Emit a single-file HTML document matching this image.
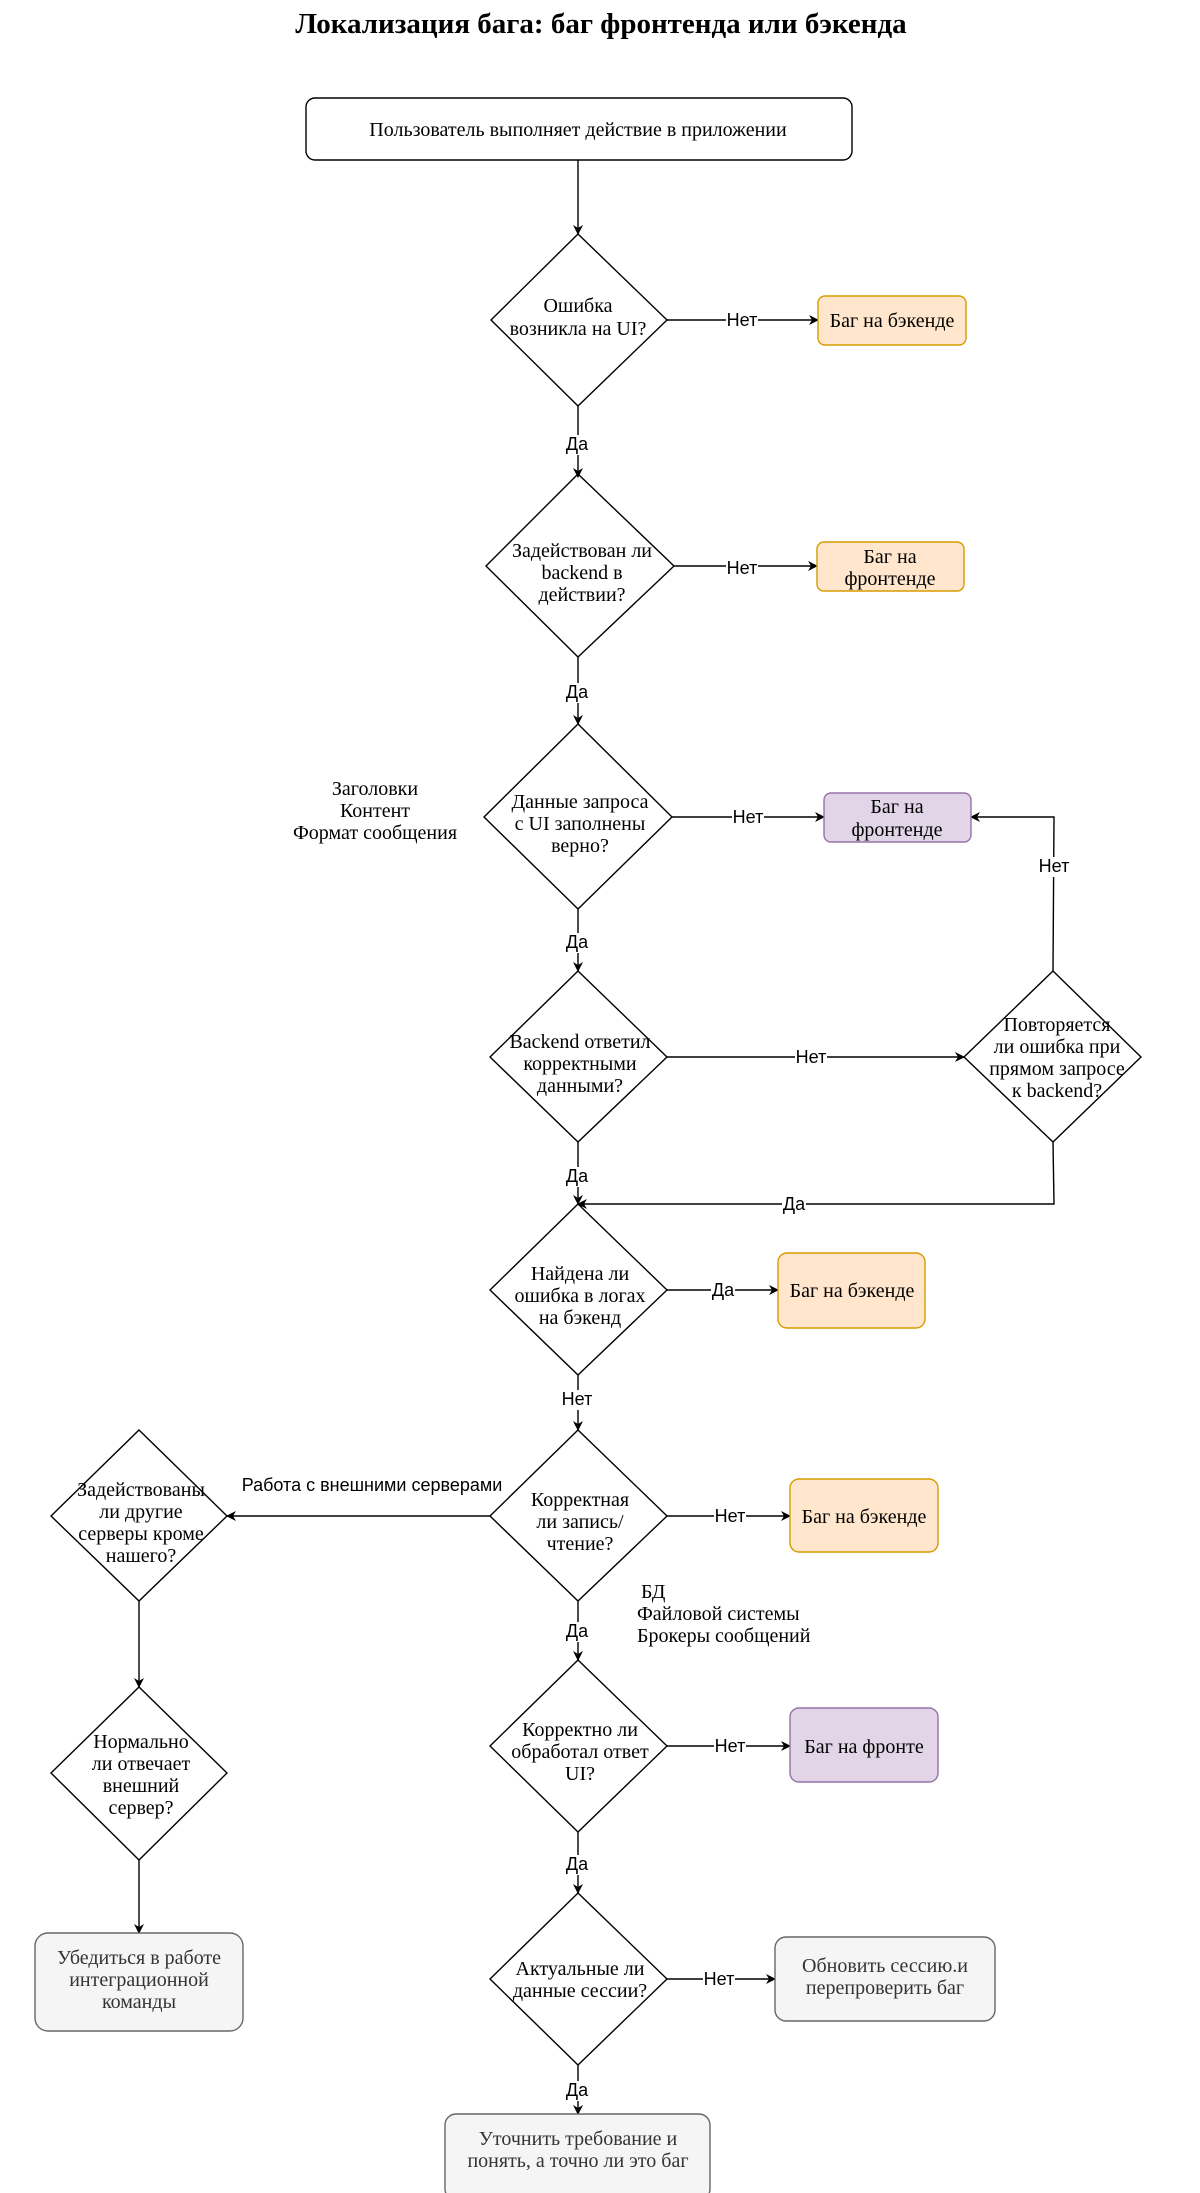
<!DOCTYPE html>
<html><head><meta charset="utf-8"><style>
html,body{margin:0;padding:0;background:#fff}
svg{display:block}
.s{font-family:"Liberation Serif","Noto Serif CJK SC",serif;font-size:20px;fill:#000;text-anchor:middle}
.l{font-family:"Liberation Sans","Noto Sans CJK SC",sans-serif;font-size:18px;fill:#000;text-anchor:middle}
.g{fill:#333}
</style></head><body>
<svg width="1200" height="2193" viewBox="0 0 1200 2193" xmlns="http://www.w3.org/2000/svg">
<defs><marker id="a" markerWidth="10" markerHeight="10" refX="9" refY="5" orient="auto" markerUnits="userSpaceOnUse"><path d="M0,0 L10,5 L0,10 L3,5 z" fill="#000"/></marker></defs>
<text x="601" y="33" class="s" style="font-size:29px;font-weight:bold">Локализация бага: баг фронтенда или бэкенда</text>
<g fill="none" stroke="#000" stroke-width="1.4">
<rect x="306" y="98" width="546" height="62" rx="9" fill="#fff"/>
<polygon points="578,234 667,320 578,406 491,320" fill="#fff"/>
<polygon points="578,474 674,566 578,657 486,566" fill="#fff"/>
<polygon points="578,724 672,817 578,909 484,817" fill="#fff"/>
<polygon points="578,971 667,1057 578,1142 490,1057" fill="#fff"/>
<polygon points="1053,971 1141,1057 1053,1142 964,1057" fill="#fff"/>
<polygon points="578,1204 667,1290 578,1375 490,1290" fill="#fff"/>
<polygon points="578,1430 667,1516 578,1601 490,1516" fill="#fff"/>
<polygon points="139,1430 227,1516 139,1601 51,1516" fill="#fff"/>
<polygon points="578,1660 667,1746 578,1832 490,1746" fill="#fff"/>
<polygon points="139,1687 227,1773 139,1860 51,1773" fill="#fff"/>
<polygon points="578,1893 667,1979 578,2065 490,1979" fill="#fff"/>
<line x1="578" y1="160" x2="578" y2="234" marker-end="url(#a)"/>
<line x1="667" y1="320" x2="818" y2="320" marker-end="url(#a)"/>
<line x1="578" y1="406" x2="578" y2="477" marker-end="url(#a)"/>
<line x1="674" y1="566" x2="817" y2="566" marker-end="url(#a)"/>
<line x1="578" y1="657" x2="578" y2="724" marker-end="url(#a)"/>
<line x1="672" y1="817" x2="824" y2="817" marker-end="url(#a)"/>
<line x1="578" y1="909" x2="578" y2="971" marker-end="url(#a)"/>
<line x1="667" y1="1057" x2="964" y2="1057" marker-end="url(#a)"/>
<polyline points="1053,971 1054,817 971,817" marker-end="url(#a)"/>
<polyline points="1053,1142 1054,1204 578,1204" marker-end="url(#a)"/>
<line x1="578" y1="1142" x2="578" y2="1204" marker-end="url(#a)"/>
<line x1="667" y1="1290" x2="778" y2="1290" marker-end="url(#a)"/>
<line x1="578" y1="1375" x2="578" y2="1430" marker-end="url(#a)"/>
<line x1="667" y1="1516" x2="790" y2="1516" marker-end="url(#a)"/>
<line x1="490" y1="1516" x2="227" y2="1516" marker-end="url(#a)"/>
<line x1="578" y1="1601" x2="578" y2="1660" marker-end="url(#a)"/>
<line x1="667" y1="1746" x2="790" y2="1746" marker-end="url(#a)"/>
<line x1="139" y1="1601" x2="139" y2="1687" marker-end="url(#a)"/>
<line x1="139" y1="1860" x2="139" y2="1933" marker-end="url(#a)"/>
<line x1="578" y1="1832" x2="578" y2="1893" marker-end="url(#a)"/>
<line x1="667" y1="1979" x2="775" y2="1979" marker-end="url(#a)"/>
<line x1="578" y1="2065" x2="578" y2="2114" marker-end="url(#a)"/>
</g>
<g stroke-width="1.4">
<rect x="818" y="296" width="148" height="49" rx="7" fill="#ffe6cc" stroke="#d79b00"/>
<rect x="817" y="542" width="147" height="49" rx="7" fill="#ffe6cc" stroke="#d79b00"/>
<rect x="824" y="793" width="147" height="49" rx="7" fill="#e1d5e7" stroke="#9673a6"/>
<rect x="778" y="1253" width="147" height="75" rx="9" fill="#ffe6cc" stroke="#d79b00"/>
<rect x="790" y="1479" width="148" height="73" rx="9" fill="#ffe6cc" stroke="#d79b00"/>
<rect x="790" y="1708" width="148" height="74" rx="9" fill="#e1d5e7" stroke="#9673a6"/>
<rect x="35" y="1933" width="208" height="98" rx="13" fill="#f5f5f5" stroke="#666"/>
<rect x="775" y="1937" width="220" height="84" rx="11" fill="#f5f5f5" stroke="#666"/>
<rect x="445" y="2114" width="265" height="86" rx="11" fill="#f5f5f5" stroke="#666"/>
</g>
<g fill="#fff">
<rect x="726" y="310" width="32" height="20"/><rect x="726" y="558" width="32" height="20"/>
<rect x="732" y="808" width="32" height="20"/><rect x="795" y="1048" width="32" height="20"/>
<rect x="1038" y="857" width="32" height="20"/><rect x="782" y="1195" width="24" height="20"/>
<rect x="566" y="435" width="24" height="20"/><rect x="566" y="683" width="24" height="20"/>
<rect x="566" y="933" width="24" height="20"/><rect x="566" y="1167" width="24" height="20"/>
<rect x="711" y="1281" width="24" height="20"/><rect x="562" y="1390" width="32" height="20"/>
<rect x="714" y="1507" width="32" height="20"/><rect x="566" y="1622" width="24" height="20"/>
<rect x="714" y="1737" width="32" height="20"/><rect x="566" y="1855" width="24" height="20"/>
<rect x="703" y="1970" width="32" height="20"/><rect x="566" y="2081" width="24" height="20"/>
</g>
<g class="l">
<text x="742" y="326">Нет</text><text x="742" y="574">Нет</text><text x="748" y="823">Нет</text>
<text x="811" y="1063">Нет</text><text x="1054" y="872">Нет</text><text x="794" y="1210">Да</text>
<text x="577" y="450">Да</text><text x="577" y="698">Да</text><text x="577" y="948">Да</text>
<text x="577" y="1182">Да</text><text x="723" y="1296">Да</text><text x="577" y="1405">Нет</text>
<text x="730" y="1522">Нет</text><text x="577" y="1637">Да</text><text x="730" y="1752">Нет</text>
<text x="577" y="1870">Да</text><text x="719" y="1985">Нет</text><text x="577" y="2096">Да</text>
<text x="372" y="1491">Работа с внешними серверами</text>
</g>
<g class="s">
<text x="578" y="136">Пользователь выполняет действие в приложении</text>
<text x="578" y="312">Ошибка</text><text x="578" y="335">возникла на UI?</text>
<text x="892" y="327">Баг на бэкенде</text>
<text x="582" y="557">Задействован ли</text><text x="582" y="579">backend в</text><text x="582" y="601">действии?</text>
<text x="890" y="563">Баг на</text><text x="890" y="585">фронтенде</text>
<text x="375" y="795">Заголовки</text><text x="375" y="817">Контент</text><text x="375" y="839">Формат сообщения</text>
<text x="580" y="808">Данные запроса</text><text x="580" y="830">с UI заполнены</text><text x="580" y="852">верно?</text>
<text x="897" y="813">Баг на</text><text x="897" y="836">фронтенде</text>
<text x="580" y="1048">Backend ответил</text><text x="580" y="1070">корректными</text><text x="580" y="1092">данными?</text>
<text x="1057" y="1031">Повторяется</text><text x="1057" y="1053">ли ошибка при</text><text x="1057" y="1075">прямом запросе</text><text x="1057" y="1097">к backend?</text>
<text x="580" y="1280">Найдена ли</text><text x="580" y="1302">ошибка в логах</text><text x="580" y="1324">на бэкенд</text>
<text x="852" y="1297">Баг на бэкенде</text>
<text x="580" y="1506">Корректная</text><text x="580" y="1528">ли запись/</text><text x="580" y="1550">чтение?</text>
<text x="864" y="1523">Баг на бэкенде</text>
<text x="141" y="1496">Задействованы</text><text x="141" y="1518">ли другие</text><text x="141" y="1540">серверы кроме</text><text x="141" y="1562">нашего?</text>
<g style="text-anchor:start"><text x="641" y="1598">БД</text><text x="637" y="1620">Файловой системы</text><text x="637" y="1642">Брокеры сообщений</text></g>
<text x="580" y="1736">Корректно ли</text><text x="580" y="1758">обработал ответ</text><text x="580" y="1780">UI?</text>
<text x="864" y="1753">Баг на фронте</text>
<text x="141" y="1748">Нормально</text><text x="141" y="1770">ли отвечает</text><text x="141" y="1792">внешний</text><text x="141" y="1814">сервер?</text>
<text x="580" y="1975">Актуальные ли</text><text x="580" y="1997">данные сессии?</text>
<g class="g"><text x="139" y="1964" class="g">Убедиться в работе</text><text x="139" y="1986" class="g">интеграционной</text><text x="139" y="2008" class="g">команды</text>
<text x="885" y="1972" class="g">Обновить сессию.и</text><text x="885" y="1994" class="g">перепроверить баг</text>
<text x="578" y="2145" class="g">Уточнить требование и</text><text x="578" y="2167" class="g">понять, а точно ли это баг</text></g>
</g>
</svg>
</body></html>
